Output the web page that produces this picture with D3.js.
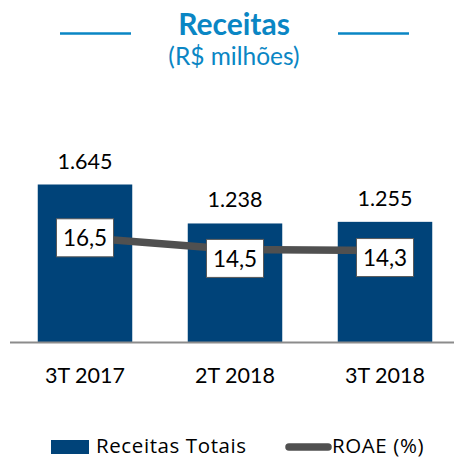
<!DOCTYPE html>
<html>
<head>
<meta charset="utf-8">
<script src="https://cdn.jsdelivr.net/npm/d3@7"></script>
<style>
  body { margin: 0; background: #fff; }
  svg { display: block; }
</style>
</head>
<body>
<div id="chart"></div>
<script>
// --- data
const periods = ['3T 2017', '2T 2018', '3T 2018'];
const receitas = [1645, 1238, 1255];
const roae = [16.5, 14.5, 14.3];
const receitasLabels = ['1.645', '1.238', '1.255'];
const roaeLabels = ['16,5', '14,5', '14,3'];

const width = 454;
const height = 458;
const font = 'Lato, "Open Sans", sans-serif';
const legendFont = '"Open Sans", Lato, sans-serif';
const barColor = '#004379';
const lineColor = '#505050';
const titleColor = '#0a86c4';

const svg = d3.select('#chart')
  .append('svg')
  .attr('width', width)
  .attr('height', height);

// --- title
svg.append('text')
  .attr('x', 234).attr('y', 35)
  .attr('text-anchor', 'middle')
  .attr('font-family', font)
  .attr('font-weight', 'bold')
  .attr('font-size', 30)
  .attr('fill', titleColor)
  .text('Receitas');

svg.append('text')
  .attr('x', 234).attr('y', 65)
  .attr('text-anchor', 'middle')
  .attr('font-family', font)
  .attr('font-size', 24.5)
  .attr('fill', titleColor)
  .text('(R$ milhões)');

svg.selectAll('.title-rule')
  .data([[60, 131], [338, 409]])
  .join('line')
    .attr('class', 'title-rule')
    .attr('x1', d => d[0]).attr('x2', d => d[1])
    .attr('y1', 33.5).attr('y2', 33.5)
    .attr('stroke', titleColor)
    .attr('stroke-width', 2.5);

// --- scales
const x = d3.scaleBand()
  .domain(periods)
  .range([10, 460])
  .paddingInner(0.37)
  .paddingOuter(0.185);

const y = d3.scaleLinear()
  .domain([0, 1645])
  .range([342, 184.5]);

const y2 = d3.scaleLinear()
  .domain([0, 16.5])
  .range([333.5, 237.8]);

// --- bars
svg.selectAll('.bar')
  .data(receitas)
  .join('rect')
    .attr('class', 'bar')
    .attr('x', (d, i) => x(periods[i]))
    .attr('y', d => y(d))
    .attr('width', x.bandwidth())
    .attr('height', d => y(0) - y(d))
    .attr('fill', barColor);

// bar value labels
svg.selectAll('.bar-label')
  .data(receitas)
  .join('text')
    .attr('class', 'bar-label')
    .attr('x', (d, i) => x(periods[i]) + x.bandwidth() / 2)
    .attr('y', d => y(d) - 16)
    .attr('text-anchor', 'middle')
    .attr('font-family', font)
    .attr('font-size', 21.5)
    .attr('fill', '#000')
    .text((d, i) => receitasLabels[i]);

// --- axis baseline
svg.append('line')
  .attr('x1', 10).attr('x2', width)
  .attr('y1', y(0) + 0.5).attr('y2', y(0) + 0.5)
  .attr('stroke', '#8c8c8c')
  .attr('stroke-width', 2);

// category labels
svg.selectAll('.cat-label')
  .data(periods)
  .join('text')
    .attr('class', 'cat-label')
    .attr('x', d => x(d) + x.bandwidth() / 2)
    .attr('y', 383)
    .attr('text-anchor', 'middle')
    .attr('font-family', font)
    .attr('font-size', 21.5)
    .attr('fill', '#000')
    .text(d => d);

// --- ROAE line
const line = d3.line()
  .x((d, i) => x(periods[i]) + x.bandwidth() / 2)
  .y(d => y2(d));

svg.append('path')
  .datum(roae)
  .attr('d', line)
  .attr('fill', 'none')
  .attr('stroke', lineColor)
  .attr('stroke-width', 7.5);

// label boxes (first centred on point, others sit a bit below)
const boxW = 57;
const boxH = 38;
const labelShift = [0, 9, 7];

const roaeLabel = svg.selectAll('.roae-label')
  .data(roae)
  .join('g')
    .attr('class', 'roae-label')
    .attr('transform', (d, i) =>
      `translate(${x(periods[i]) + x.bandwidth() / 2} ${y2(d) + labelShift[i]})`);

roaeLabel.append('rect')
  .attr('x', -boxW / 2)
  .attr('y', -boxH / 2)
  .attr('width', boxW)
  .attr('height', boxH)
  .attr('fill', '#fff')
  .attr('stroke', '#595959')
  .attr('stroke-width', 1);

roaeLabel.append('text')
  .attr('text-anchor', 'middle')
  .attr('dy', '0.36em')
  .attr('font-family', font)
  .attr('font-size', 22.5)
  .attr('fill', '#000')
  .text((d, i) => roaeLabels[i]);

// --- legend
const legend = svg.append('g').attr('class', 'legend');

legend.append('rect')
  .attr('x', 51).attr('y', 440)
  .attr('width', 38).attr('height', 14)
  .attr('fill', barColor);

legend.append('text')
  .attr('x', 96).attr('y', 453)
  .attr('font-family', legendFont)
  .attr('font-size', 20.5)
  .attr('letter-spacing', 0.6)
  .attr('fill', '#000')
  .text('Receitas Totais');

legend.append('line')
  .attr('x1', 289).attr('x2', 328)
  .attr('y1', 447).attr('y2', 447)
  .attr('stroke', lineColor)
  .attr('stroke-width', 7.5)
  .attr('stroke-linecap', 'round');

legend.append('text')
  .attr('x', 332).attr('y', 453)
  .attr('font-family', legendFont)
  .attr('font-size', 20.5)
  .attr('letter-spacing', 0.6)
  .attr('fill', '#000')
  .text('ROAE (%)');
</script>
</body>
</html>
